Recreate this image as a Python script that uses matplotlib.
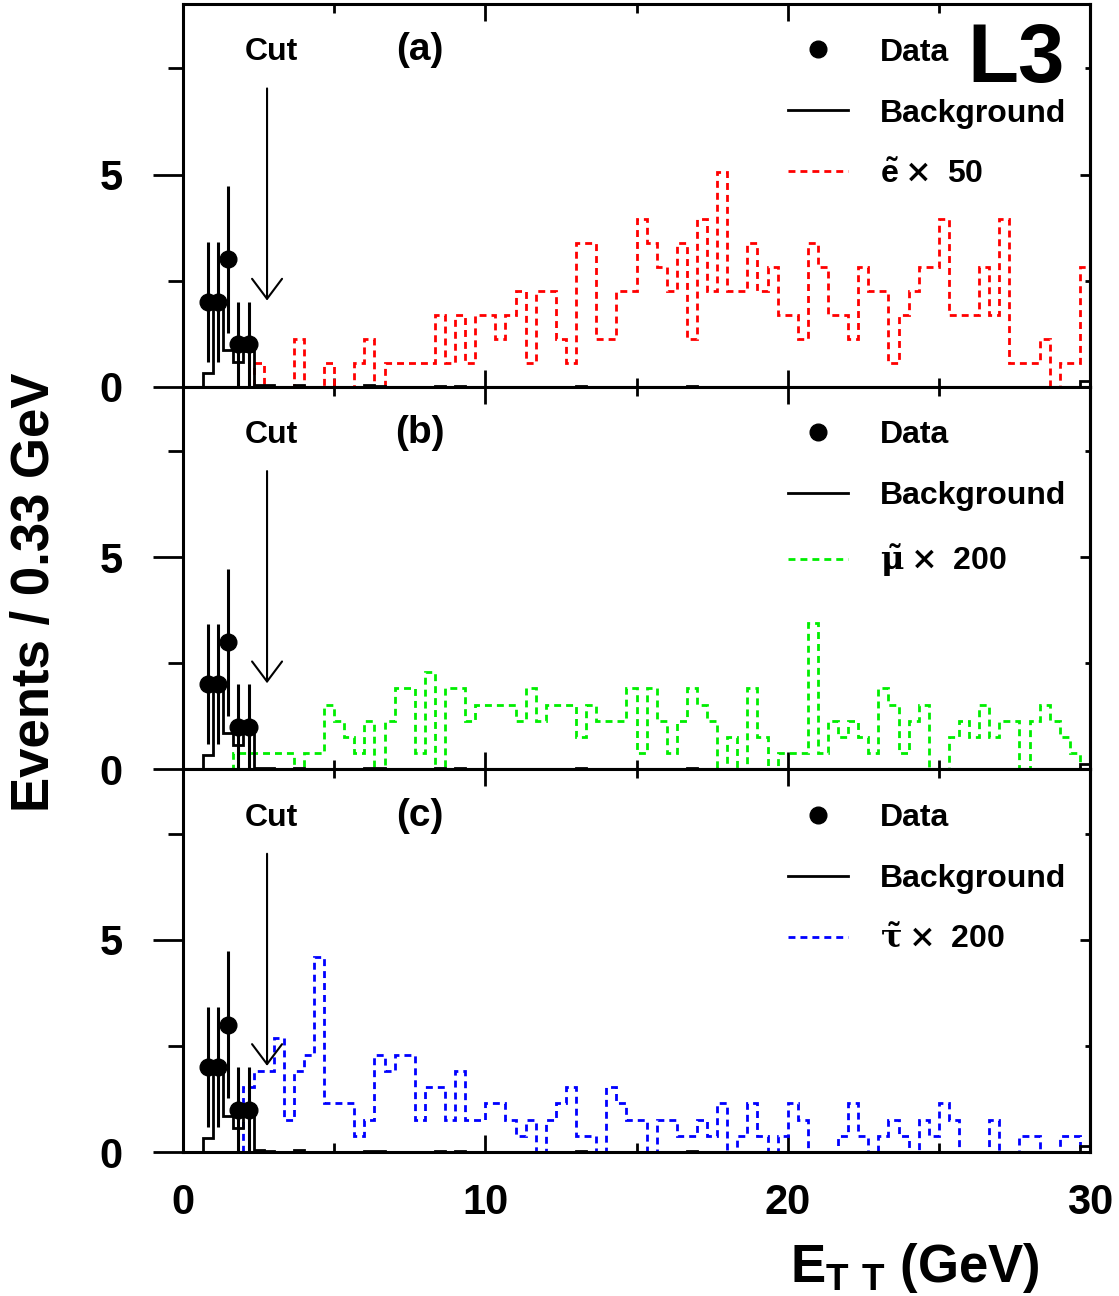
import numpy as np
import matplotlib
matplotlib.use("Agg")
import matplotlib.pyplot as plt
from matplotlib.lines import Line2D
from matplotlib.ticker import MultipleLocator

plt.rcParams['font.family'] = ['Liberation Sans', 'DejaVu Sans']
plt.rcParams['font.weight'] = 'bold'
plt.rcParams['mathtext.fontset'] = 'custom'
plt.rcParams['mathtext.rm'] = 'DejaVu Serif'
plt.rcParams['mathtext.it'] = 'DejaVu Serif:italic'
plt.rcParams['mathtext.bf'] = 'Liberation Sans:bold'

# 90 bins of 0.33 GeV from 0 to 30 GeV
edges = np.linspace(0, 30, 91)

# selected data events (bin index, events)
data_bins = [2, 3, 4, 5, 6]
data_counts = [2, 2, 3, 1, 1]

# standard model background (same in all panels)
bkg = [0, 0, 0.33, 1.9, 0.86, 0.57, 0.85, 0.04, 0.03, 0,
       0, 0.04, 0, 0, 0, 0, 0, 0, 0.03, 0.02,
       0, 0, 0, 0, 0, 0.02, 0, 0.02, 0, 0,
       0, 0, 0, 0, 0, 0, 0, 0, 0, 0.02,
       0, 0, 0, 0, 0, 0, 0, 0, 0, 0,
       0.02, 0, 0, 0, 0, 0, 0, 0, 0, 0,
       0, 0, 0, 0, 0, 0, 0, 0, 0, 0,
       0, 0, 0, 0, 0, 0, 0, 0, 0, 0,
       0, 0, 0, 0, 0, 0, 0, 0, 0, 0.13]

# signal MC events per bin, and the weight of one MC event after scaling
sel_counts = [0, 0, 0, 0, 0, 0, 0, 1, 0, 0,
              0, 2, 0, 0, 1, 0, 0, 1, 2, 0,
              1, 1, 1, 1, 1, 3, 1, 3, 1, 3,
              3, 2, 3, 4, 1, 4, 4, 2, 1, 6,
              6, 2, 2, 4, 4, 7, 6, 5, 4, 6,
              2, 7, 4, 9, 4, 4, 6, 4, 5, 3,
              3, 2, 6, 5, 3, 3, 2, 5, 4, 4,
              1, 3, 4, 5, 5, 7, 3, 3, 3, 5,
              3, 7, 1, 1, 1, 2, 0, 1, 1, 5]
smu_counts = [0, 0, 0, 0, 0, 1, 1, 1, 1, 1,
              1, 0, 1, 1, 4, 3, 2, 1, 3, 0,
              3, 5, 5, 1, 6, 0, 5, 5, 3, 4,
              4, 4, 4, 3, 5, 3, 4, 4, 4, 2,
              4, 3, 3, 3, 5, 1, 5, 3, 1, 3,
              5, 4, 3, 0, 2, 0, 5, 2, 0, 1,
              1, 1, 9, 1, 3, 2, 3, 2, 1, 5,
              4, 1, 3, 4, 0, 0, 2, 3, 2, 4,
              2, 3, 3, 0, 3, 4, 3, 2, 1, 0]
stau_counts = [0, 0, 0, 0, 0, 0, 4, 5, 5, 7,
               2, 5, 6, 12, 3, 3, 3, 1, 2, 6,
               5, 6, 6, 2, 4, 4, 2, 5, 2, 2,
               3, 3, 2, 1, 2, 0, 2, 3, 4, 1,
               1, 0, 4, 3, 2, 2, 0, 2, 2, 1,
               1, 2, 1, 3, 0, 1, 3, 1, 0, 1,
               3, 2, 0, 0, 0, 1, 3, 1, 0, 1,
               2, 1, 0, 2, 1, 3, 2, 0, 0, 0,
               2, 0, 0, 1, 1, 0, 0, 1, 1, 0]
sel_weight = 0.563
smu_weight = 0.382
stau_weight = 0.383

cut_value = 2.78

panels = [
    ("(a)", sel_counts, sel_weight, "red", r"$\tilde{\mathbf{e}}\times$ 50"),
    ("(b)", smu_counts, smu_weight, "#00ee00", r"$\tilde{\mathrm{\mu}}\times$ 200"),
    ("(c)", stau_counts, stau_weight, "blue", r"$\tilde{\mathrm{\tau}}\times$ 200"),
]

fig = plt.figure(figsize=(11.19, 12.96), dpi=100)

left = 183 / 1119
width = (1090 - 183) / 1119
h = (1152 - 4) / 3 / 1296
bottom0 = 1 - 1152 / 1296

data_x = edges[data_bins] + (edges[1] - edges[0]) / 2

for i, (tag, counts, w, col, lab) in enumerate(panels):
    ax = fig.add_axes([left, bottom0 + (2 - i) * h, width, h])

    sig = np.array(counts) * w
    ax.stairs(sig, edges, color=col, lw=2, ls=(0, (2.5, 1.8)), zorder=2)
    ax.stairs(bkg, edges, color='k', lw=2, zorder=3)
    eb = ax.errorbar(data_x, data_counts, yerr=np.sqrt(data_counts), fmt='o',
                     color='k', ms=12, elinewidth=2.2, capsize=0, zorder=5)

    ax.set_xlim(0, 30)
    ax.set_ylim(0, 9.02)

    # ticks
    ax.xaxis.set_major_locator(MultipleLocator(10))
    ax.xaxis.set_minor_locator(MultipleLocator(5))
    ax.yaxis.set_major_locator(MultipleLocator(5))
    ax.yaxis.set_minor_locator(MultipleLocator(2.5))
    ax.tick_params(axis='x', which='both', direction='in', top=True, bottom=True, width=2)
    ax.tick_params(axis='x', which='major', length=12.5, labelsize=30, pad=22,
                   labelbottom=(i == 2))
    ax.tick_params(axis='x', which='minor', length=6.5)
    ax.tick_params(axis='y', which='both', direction='out', left=True, right=False, width=2)
    ax.tick_params(axis='y', which='major', length=21.6, pad=22, labelsize=30)
    ax.tick_params(axis='y', which='minor', length=10.8)
    for s in ax.spines.values():
        s.set_linewidth(2.2)

    sec = ax.secondary_yaxis('right')
    sec.yaxis.set_major_locator(MultipleLocator(5))
    sec.yaxis.set_minor_locator(MultipleLocator(2.5))
    sec.tick_params(which='both', direction='in', width=2, labelright=False)
    sec.tick_params(which='major', length=7)
    sec.tick_params(which='minor', length=3.5)
    sec.spines['right'].set_linewidth(2.2)

    # cut arrow
    ax.annotate('', xy=(cut_value, 2.03), xytext=(cut_value, 7.03),
                arrowprops=dict(arrowstyle='->,head_length=0.72,head_width=0.54',
                                lw=1.5, color='k', mutation_scale=20,
                                shrinkA=0, shrinkB=0))
    ax.text(2.91, 7.69, "Cut", fontsize=23, ha='center', va='baseline')
    ax.text(7.84, 7.69, tag, fontsize=28, ha='center', va='baseline')

    handles = [eb[0],
               Line2D([], [], color='k', lw=2),
               Line2D([], [], color=col, lw=2, ls=(0, (2.5, 1.8)))]
    ax.legend(handles, ["Data", "Background", lab], loc='upper left',
              bbox_to_anchor=(0.667, 0.912), frameon=False, fontsize=23,
              numpoints=1, handlelength=1.87, handletextpad=1.0,
              labelspacing=0.97, borderpad=0, borderaxespad=0)

    if i == 0:
        ax.text(29.18, 7.17, "L3", fontsize=60, ha='right', va='baseline')

fig.text(0.031, 0.543, "Events / 0.33 GeV", rotation=90, ha='center',
         va='center', fontsize=38)
fig.text(0.929, 0.0108, r"$\mathbf{E_{T\ T}}$ (GeV)", ha='right',
         va='baseline', fontsize=38)

plt.savefig("out.png", dpi=100)
